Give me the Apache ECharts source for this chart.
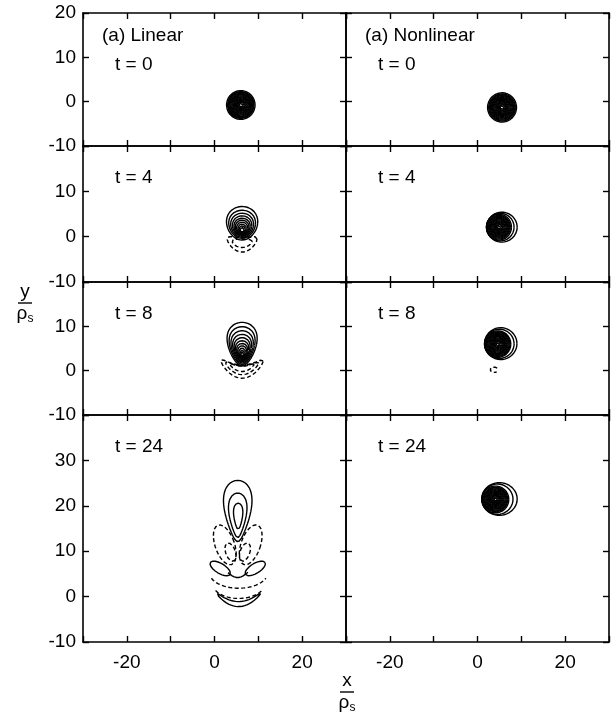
<!DOCTYPE html>
<html>
<head>
<meta charset="utf-8">
<script src="https://cdn.jsdelivr.net/npm/echarts@6/dist/echarts.min.js"></script>
<style>
  html, body { margin: 0; padding: 0; background: #fff; }
  #chart { width: 613px; height: 721px; }
</style>
</head>
<body>
<div id="chart"></div>
<script>
// Vorticity contours of a drifting vortex, linear vs nonlinear evolution.
// Each contour row: [cx, cy, rx, ry, egg, bend, tilt(deg), a0(deg), a1(deg)]
// egg widens the upper half, bend lifts the ends (crescent), a0..a1 limits the arc.

const xTicks = [-20, 0, 20];
const timeLabels = ['t = 0', 't = 4', 't = 8', 't = 24'];
const columnTitles = ['(a) Linear', '(a) Nonlinear'];
const rowYMax = [20, 20, 20, 40];

// contour levels of the tightly packed monopole cores (radius in ρs)
const lin0Levels = [0.45, 0.65, 0.85, 1.05, 1.25, 1.45, 1.65, 1.85, 2.05, 2.25, 2.45, 2.65, 2.85, 3.0, 3.25];
const non0Levels = [0.45, 0.65, 0.85, 1.05, 1.25, 1.45, 1.65, 1.85, 2.05, 2.25, 2.45, 2.65, 2.85, 3.05, 3.3];
const non4Levels = [0.4, 0.6, 0.8, 1.0, 1.2, 1.4, 1.6, 1.8, 2.0, 2.2, 2.4, 2.6, 2.85];
const non8Levels = [0.4, 0.6, 0.8, 1.0, 1.2, 1.4, 1.6, 1.8, 2.0, 2.2, 2.4, 2.6, 2.8, 3.0];
const non24Levels = [0.4, 0.6, 0.8, 1.0, 1.2, 1.4, 1.6, 1.8, 2.0, 2.2, 2.4, 2.6, 2.8, 3.05];

// ---- Linear, t = 0 : compact monopole centred at (6.0, -0.75)
const lin0Solid = lin0Levels.map(r => [6.0, -0.75, r, r]);
const lin0Dashed = [];

// ---- Linear, t = 4
const lin4Solid = [
  [6.3, 2.95, 3.55, 3.7, 0.1], [6.3, 2.73, 3.05, 3.1, 0.1], [6.3, 2.52, 2.6, 2.65, 0.1],
  [6.3, 2.34, 2.2, 2.25, 0.1], [6.3, 2.17, 1.85, 1.9, 0.1], [6.3, 2.04, 1.55, 1.6, 0.1],
  [6.3, 1.9, 1.25, 1.3, 0.1], [6.3, 1.76, 0.95, 1.0, 0.1], [6.3, 1.65, 0.7, 0.75],
  [6.3, 1.53, 0.45, 0.5]
];
const lin4Dashed = [
  [6.3, -1.8, 3.4, 1.6, 0, 1.3],
  [6.3, -1.5, 2.3, 0.9, 0, 0.5]
];

// ---- Linear, t = 8
const lin8Solid = [
  [6.3, 6.0, 3.3, 4.9, 0.3], [6.3, 5.67, 2.85, 4.25, 0.3], [6.3, 5.36, 2.45, 3.65, 0.3],
  [6.3, 5.08, 2.08, 3.1, 0.3], [6.3, 4.83, 1.75, 2.6, 0.3], [6.3, 4.6, 1.45, 2.15, 0.3],
  [6.3, 4.39, 1.18, 1.75, 0.3], [6.3, 4.21, 0.94, 1.4, 0.3], [6.3, 4.04, 0.71, 1.05, 0.2],
  [6.3, 3.88, 0.5, 0.75], [6.3, 3.76, 0.33, 0.5]
];
const lin8Dashed = [
  [6.3, -0.2, 4.8, 1.5, 0, 2.4],
  [6.3, 0.1, 3.8, 1.0, 0, 1.7],
  [6.3, 0.4, 2.8, 0.6, 0, 1.1]
];

// ---- Linear, t = 24 : main lobe with alternating side lobes and trailing wake
const lin24Solid = [
  [5.3, 18.85, 3.0, 6.75, 0.45], [5.3, 17.9, 1.95, 4.9, 0.45], [5.4, 17.7, 1.0, 2.9, 0.4],
  [1.3, 6.2, 2.6, 1.1, 0, 0, -30], [9.3, 6.2, 2.6, 1.1, 0, 0, 30],
  [5.3, 3.9, 2.4, 0.3, 0, 1.5, 0, 15, 165],
  [5.5, -1.65, 5.0, 0.55, 0, 2.35]
];
const lin24Dashed = [
  [2.35, 11.4, 2.2, 4.6, 0, 0, 20], [3.65, 9.8, 1.1, 2.1, 0, 0, 20],
  [8.25, 11.4, 2.2, 4.6, 0, 0, -20], [6.95, 9.8, 1.1, 2.1, 0, 0, -20],
  [5.5, 5.2, 6.6, 3.35, 0, 0, 0, 200, 340],
  [5.5, 2.6, 5.8, 3.0, 0, 0, 0, 205, 335]
];

// ---- Nonlinear, t = 0
const non0Solid = non0Levels.map(r => [5.6, -1.3, r, r]);
const non0Dashed = [];

// ---- Nonlinear, t = 4 : core plus two outer contours displaced to the right
const non4Solid = non4Levels.map(r => [4.9, 2.1, r, r])
  .concat([[5.2, 2.1, 3.15, 3.05], [5.55, 2.1, 3.5, 3.3]]);
const non4Dashed = [];

// ---- Nonlinear, t = 8
const non8Solid = non8Levels.map(r => [4.6, 6.0, r, r])
  .concat([[5.0, 6.05, 3.35, 3.3], [5.3, 6.1, 3.7, 3.6]]);
const non8Dashed = [
  [3.8, 0.2, 0.9, 0.6, 0, 0, 0, 40, 320]
];

// ---- Nonlinear, t = 24
const non24Solid = non24Levels.map(r => [4.1, 21.4, r, r * 0.97])
  .concat([[4.55, 21.45, 3.55, 3.35], [5.0, 21.5, 4.05, 3.6]]);
const non24Dashed = [];

// panels in reading order: row by row, left (linear) then right (nonlinear)
const panelContours = [
  [lin0Solid, lin0Dashed], [non0Solid, non0Dashed],
  [lin4Solid, lin4Dashed], [non4Solid, non4Dashed],
  [lin8Solid, lin8Dashed], [non8Solid, non8Dashed],
  [lin24Solid, lin24Dashed], [non24Solid, non24Dashed]
];

// ---------------------------------------------------------------- layout
const FONT = '"Liberation Sans", Arial, Helvetica, sans-serif';
const colLeft = [83, 346];
const colWidth = 263;
const rowTop = [13, 146, 282, 415];
const rowHeight = [133, 136, 133, 227];

function contourPoints(c, n) {
  const [cx, cy, rx, ry, egg = 0, bend = 0, tilt = 0, a0 = 0, a1 = 360] = c;
  const t = tilt * Math.PI / 180;
  const pts = [];
  for (let i = 0; i <= n; i++) {
    const th = (a0 + (a1 - a0) * i / n) * Math.PI / 180;
    const s = Math.sin(th), co = Math.cos(th);
    const u = rx * co * (1 + egg * s);
    const v = ry * s + bend * co * co;
    pts.push([cx + u * Math.cos(t) - v * Math.sin(t), cy + u * Math.sin(t) + v * Math.cos(t)]);
  }
  return pts;
}

const grid = [], xAxis = [], yAxis = [], series = [], graphic = [];
const axisLineStyle = { show: true, onZero: false, lineStyle: { color: '#000', width: 1.6 } };
const tickStyle = { show: true, inside: true, length: 6, lineStyle: { color: '#000', width: 1.4 } };

for (let r = 0; r < 4; r++) {
  for (let c = 0; c < 2; c++) {
    const i = r * 2 + c;
    grid.push({ left: colLeft[c], top: rowTop[r], width: colWidth, height: rowHeight[r] });
    const bottomRow = r === 3;
    xAxis.push({
      gridIndex: i, type: 'value', min: -30, max: 30, interval: 10, position: 'bottom',
      axisLine: axisLineStyle, axisTick: tickStyle, splitLine: { show: false },
      axisLabel: {
        show: bottomRow, margin: 11, color: '#000', fontFamily: FONT, fontSize: 19,
        formatter: v => (xTicks.indexOf(v) >= 0 ? String(v) : '')
      }
    });
    xAxis.push({
      gridIndex: i, type: 'value', min: -30, max: 30, interval: 10, position: 'top',
      axisLine: axisLineStyle, axisTick: tickStyle, splitLine: { show: false },
      axisLabel: { show: false }
    });
    const yMax = rowYMax[r];
    yAxis.push({
      gridIndex: i, type: 'value', min: -10, max: yMax, interval: 10, position: 'left',
      axisLine: axisLineStyle, axisTick: tickStyle, splitLine: { show: false },
      axisLabel: {
        show: c === 0, margin: 7, color: '#000', fontFamily: FONT, fontSize: 19,
        formatter: v => (v === yMax && r !== 0 ? '' : String(v))
      }
    });
    yAxis.push({
      gridIndex: i, type: 'value', min: -10, max: yMax, interval: 10, position: 'right',
      axisLine: axisLineStyle, axisTick: tickStyle, splitLine: { show: false },
      axisLabel: { show: false }
    });

    const [solid, dashed] = panelContours[i];
    solid.forEach(cn => series.push({
      type: 'line', xAxisIndex: 2 * i, yAxisIndex: 2 * i, data: contourPoints(cn, 180),
      showSymbol: false, symbol: 'none', silent: true, animation: false, smooth: false,
      lineStyle: { color: '#000', width: 1.4 }
    }));
    dashed.forEach(cn => series.push({
      type: 'line', xAxisIndex: 2 * i, yAxisIndex: 2 * i, data: contourPoints(cn, 180),
      showSymbol: false, symbol: 'none', silent: true, animation: false, smooth: false,
      lineStyle: { color: '#000', width: 1.4, type: [4, 2.5] }
    }));

    // panel annotations
    graphic.push({
      type: 'text', left: colLeft[c] + 32, top: rowTop[r] + (r === 0 ? 42 : 22),
      style: { text: timeLabels[r], fill: '#000', font: '19px ' + FONT }
    });
  }
}
columnTitles.forEach((t, c) => graphic.push({
  type: 'text', left: colLeft[c] + 19, top: 26,
  style: { text: t, fill: '#000', font: '19px ' + FONT }
}));

// axis titles written as fractions  y/ρs  and  x/ρs
function fraction(cx, cy, letter) {
  graphic.push({ type: 'text', x: cx, y: cy - 11, style: { text: letter, fill: '#000', font: '19px ' + FONT, align: 'center', verticalAlign: 'middle' } });
  graphic.push({ type: 'line', shape: { x1: cx - 7, y1: cy, x2: cx + 7, y2: cy }, style: { stroke: '#000', lineWidth: 1.4 } });
  graphic.push({
    type: 'text', x: cx, y: cy + 11,
    style: {
      text: '{r|ρ}{s|s}', align: 'center', verticalAlign: 'middle',
      rich: { r: { fontFamily: FONT, fontSize: 19, fill: '#000' },
              s: { fontFamily: FONT, fontSize: 12, fill: '#000', padding: [10, 0, 0, 0] } }
    }
  });
}
fraction(25, 303, 'y');
fraction(347, 692, 'x');

const chart = echarts.init(document.getElementById('chart'), null, { renderer: 'canvas' });
chart.setOption({
  animation: false,
  backgroundColor: '#fff',
  grid, xAxis, yAxis, series, graphic
});
</script>
</body>
</html>
